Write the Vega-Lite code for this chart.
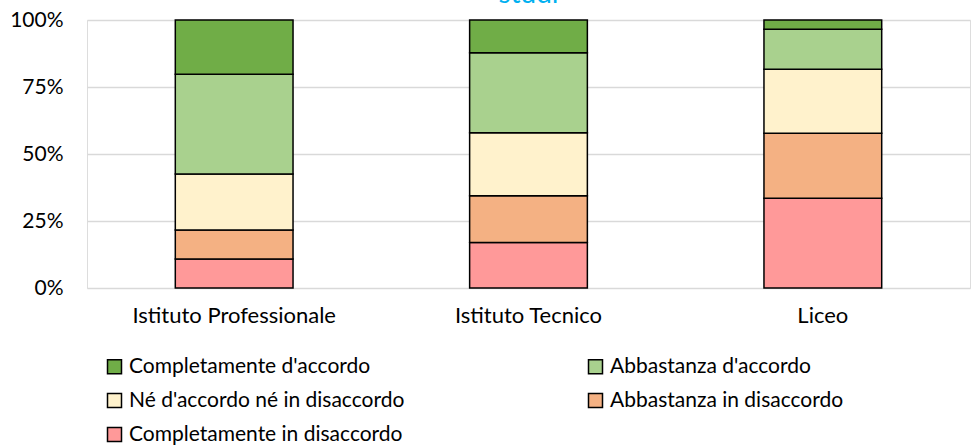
{
  "$schema": "https://vega.github.io/schema/vega-lite/v6.json",
  "autosize": "none",
  "width": 883,
  "height": 268,
  "padding": {"left": 87, "top": 20, "right": 5, "bottom": 157},
  "background": "white",
  "title": {"text": "studi", "color": "#00B0F0", "fontSize": 28, "font": "Lato", "fontWeight": "normal", "offset": 2, "dy": 24, "baseline": "alphabetic", "anchor": "middle"},
  "data": {
    "values": [
      {"scuola": "Istituto Professionale", "risposta": "Completamente in disaccordo", "ord": 1, "v": 10.8},
      {"scuola": "Istituto Professionale", "risposta": "Abbastanza in disaccordo", "ord": 2, "v": 10.8},
      {"scuola": "Istituto Professionale", "risposta": "Né d'accordo né in disaccordo", "ord": 3, "v": 20.9},
      {"scuola": "Istituto Professionale", "risposta": "Abbastanza d'accordo", "ord": 4, "v": 37.3},
      {"scuola": "Istituto Professionale", "risposta": "Completamente d'accordo", "ord": 5, "v": 20.2},
      {"scuola": "Istituto Tecnico", "risposta": "Completamente in disaccordo", "ord": 1, "v": 17.0},
      {"scuola": "Istituto Tecnico", "risposta": "Abbastanza in disaccordo", "ord": 2, "v": 17.4},
      {"scuola": "Istituto Tecnico", "risposta": "Né d'accordo né in disaccordo", "ord": 3, "v": 23.5},
      {"scuola": "Istituto Tecnico", "risposta": "Abbastanza d'accordo", "ord": 4, "v": 29.9},
      {"scuola": "Istituto Tecnico", "risposta": "Completamente d'accordo", "ord": 5, "v": 12.2},
      {"scuola": "Liceo", "risposta": "Completamente in disaccordo", "ord": 1, "v": 33.5},
      {"scuola": "Liceo", "risposta": "Abbastanza in disaccordo", "ord": 2, "v": 24.3},
      {"scuola": "Liceo", "risposta": "Né d'accordo né in disaccordo", "ord": 3, "v": 23.9},
      {"scuola": "Liceo", "risposta": "Abbastanza d'accordo", "ord": 4, "v": 14.9},
      {"scuola": "Liceo", "risposta": "Completamente d'accordo", "ord": 5, "v": 3.5}
    ]
  },
  "mark": {"type": "bar", "stroke": "black", "strokeWidth": 1.5},
  "encoding": {
    "x": {
      "field": "scuola", "type": "nominal", "sort": null,
      "scale": {"paddingInner": 0.6, "paddingOuter": 0.3},
      "axis": {"title": null, "labelAngle": 0, "domain": false, "ticks": false, "labelFont": "Lato", "labelFontSize": 22, "labelColor": "#000000", "labelPadding": 17, "labelLimit": 400}
    },
    "y": {
      "field": "v", "type": "quantitative", "stack": "normalize",
      "scale": {"domain": [0, 1]},
      "axis": {"title": null, "values": [0, 0.25, 0.5, 0.75, 1], "format": ".0%", "domain": false, "ticks": false, "labelFont": "Lato", "labelFontSize": 21, "labelColor": "#000000", "labelPadding": 24, "gridColor": "#D9D9D9", "gridWidth": 1.5}
    },
    "order": {"field": "ord", "type": "quantitative"},
    "color": {
      "field": "risposta", "type": "nominal",
      "scale": {
        "domain": ["Completamente d'accordo", "Né d'accordo né in disaccordo", "Completamente in disaccordo", "Abbastanza d'accordo", "Abbastanza in disaccordo"],
        "range": ["#70AD47", "#FFF2CC", "#FF9999", "#A9D18E", "#F4B183"]
      },
      "legend": {
        "title": null, "orient": "none", "legendX": 17, "legendY": 336,
        "columns": 2, "columnPadding": 180, "rowPadding": 12,
        "symbolType": "square", "symbolSize": 196, "symbolStrokeColor": "black", "symbolStrokeWidth": 1.5,
        "labelFont": "Lato", "labelFontSize": 21, "labelColor": "#000000", "labelOffset": 4, "labelLimit": 400
      }
    }
  }
}
